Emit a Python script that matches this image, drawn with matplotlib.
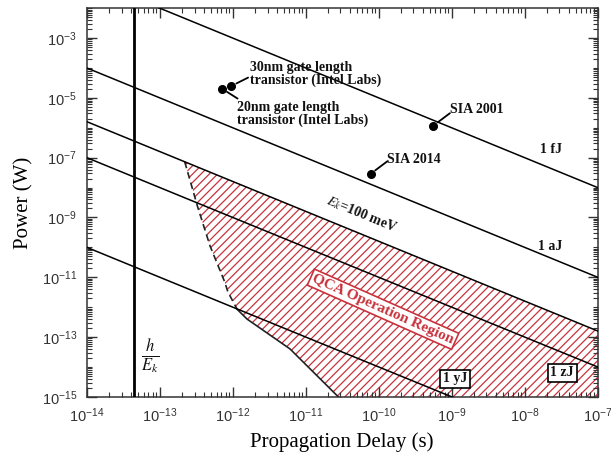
"""Power vs propagation delay with the QCA operation region."""

import matplotlib
matplotlib.use("Agg")
import matplotlib.pyplot as plt
from matplotlib.ticker import LogLocator, NullFormatter
import numpy as np

# constant-energy lines (J)
line_energies = [1e-15, 1e-18, 1.6e-20, 1e-21, 1e-24]
t_span = [1e-14, 1e-7]
ek_energy = 1.6e-20          # E_k = 100 meV
h_over_ek = 4.5e-14          # vertical line h/E_k (s)

# devices
dev_t = [9.6e-13, 7.2e-13, 5.6e-10, 7.8e-11]
dev_p = [2.5e-5, 2.0e-5, 1.17e-6, 2.9e-8]

# left boundary of the QCA region (dashed part, then solid part)
dash_t = [2.2e-13, 3.3e-13, 4.9e-13, 7.8e-13, 8.6e-13, 1.15e-12]
dash_p = [7.27e-8, 2.3e-9, 1.1e-10, 6.8e-12, 3.2e-12, 8.5e-13]
solid_t = [1.15e-12, 1.57e-12, 6.1e-12, 2.8e-11]
solid_p = [8.5e-13, 4.0e-13, 4.0e-14, 1e-15]

xticks = [1e-14, 1e-13, 1e-12, 1e-11, 1e-10, 1e-9, 1e-8, 1e-7]
yticks = [1e-15, 1e-13, 1e-11, 1e-9, 1e-7, 1e-5, 1e-3]

plt.rcParams["mathtext.fontset"] = "custom"
plt.rcParams["mathtext.rm"] = "Liberation Sans"
plt.rcParams["mathtext.it"] = "Liberation Sans:italic"
plt.rcParams["mathtext.bf"] = "Liberation Sans:bold"
plt.rcParams["hatch.linewidth"] = 0.9

fig = plt.figure(figsize=(6.11, 4.53), dpi=100)
ax = fig.add_axes([0.142, 0.124, 0.836, 0.858])
ax.set_xscale("log")
ax.set_yscale("log")
ax.set_xlim(1e-14, 1e-7)
ax.set_ylim(1e-15, 1e-2)

red = "#c8323c"

# hatched region: E_k line on top, right edge, bottom, left boundary
reg_t = [dash_t[0], t_span[1], t_span[1]] + solid_t[::-1] + dash_t[::-1][1:]
reg_p = [ek_energy / dash_t[0], ek_energy / t_span[1], 1e-15] + solid_p[::-1] + dash_p[::-1][1:]
ax.fill(reg_t, reg_p, facecolor="white", edgecolor=red, hatch="////", linewidth=0, zorder=1)

ax.plot(dash_t, dash_p, color="#222", lw=1.2, ls=(0, (4, 2.5)), zorder=3)
ax.plot(solid_t, solid_p, color="#222", lw=1.2, zorder=3)

t = np.array(t_span)
for e in line_energies:
    ax.plot(t, e / t, color="black", lw=1.1, zorder=3)

ax.axvline(h_over_ek, color="black", lw=2, zorder=3)

ax.plot(dev_t, dev_p, "o", color="black", ms=5.5, zorder=4)

bold = dict(family="Liberation Serif", weight="bold", fontsize=10, color="#111")
labels = ["30nm gate length\ntransistor (Intel Labs)",
          "20nm gate length\ntransistor (Intel Labs)",
          "SIA 2001", "SIA 2014"]
offsets = [(12, 6), (11, -7), (12, 9), (12, 9)]
for (dx, dy), tx, px, lab in zip(offsets, dev_t, dev_p, labels):
    ax.annotate("", xy=(tx, px), xytext=(dx, dy), textcoords="offset points",
                arrowprops=dict(arrowstyle="-", lw=1.3, shrinkA=0, shrinkB=4))
ax.text(10**-11.764, 10**-4.2, labels[0], ha="left", va="center", linespacing=0.95, **bold)
ax.text(10**-11.942, 10**-5.55, labels[1], ha="left", va="center", linespacing=0.95, **bold)
ax.text(10**-9.02, 10**-5.4, labels[2], ha="left", va="center", **bold)
ax.text(10**-9.885, 10**-7.07, labels[3], ha="left", va="center", **bold)

ax.text(10**-7.64, 10**-6.73, "1 fJ", ha="center", va="center", **bold)
ax.text(10**-7.65, 10**-9.97, "1 aJ", ha="center", va="center", **bold)
box = dict(boxstyle="square,pad=0.2", fc="white", ec="black", lw=1.2)
ax.text(10**-7.484, 10**-14.2, "1 zJ", ha="center", va="center", bbox=box, **bold)
ax.text(10**-8.952, 10**-14.4, "1 yJ", ha="center", va="center", bbox=box, **bold)

ax.text(10**-10.23, 10**-8.9, r"$\mathit{E_k}$=100 meV", rotation=-22.5,
        ha="center", va="center", rotation_mode="anchor", math_fontfamily="stix", **bold)
ax.text(10**-9.94, 10**-12.07, "QCA Operation Region", rotation=-24,
        ha="center", va="center", rotation_mode="anchor",
        family="Liberation Serif", weight="bold", fontsize=11, color=red,
        bbox=dict(boxstyle="square,pad=0.15", fc="white", ec=red, lw=1.2), zorder=5)
ax.text(10**-13.13, 10**-13.63, r"$\frac{h}{E_k}$", math_fontfamily="stix",
        ha="center", va="center", fontsize=17, color="#111")

ax.set_xticks(xticks)
ax.set_yticks(yticks)
ax.yaxis.set_minor_locator(LogLocator(base=10, subs=np.arange(1, 10) * 1.0, numticks=40))
ax.xaxis.set_minor_locator(LogLocator(base=10, subs=np.arange(2, 10) * 1.0, numticks=40))
ax.xaxis.set_minor_formatter(NullFormatter())
ax.yaxis.set_minor_formatter(NullFormatter())
ax.tick_params(which="both", direction="in", top=True, right=True, color="#333")
ax.tick_params(which="major", length=7, width=1, labelsize=10.5, labelcolor="#333", pad=7)
ax.tick_params(which="minor", length=3.5, width=0.8)
for lab in ax.get_xticklabels() + ax.get_yticklabels():
    lab.set_family("Liberation Sans")
for s in ax.spines.values():
    s.set_linewidth(1.1)
    s.set_color("#333")

ax.set_xlabel("Propagation Delay (s)", family="Liberation Serif", fontsize=15, labelpad=5)
ax.set_ylabel("Power (W)", family="Liberation Serif", fontsize=15, labelpad=6)

fig.savefig("out.png", dpi=100)
